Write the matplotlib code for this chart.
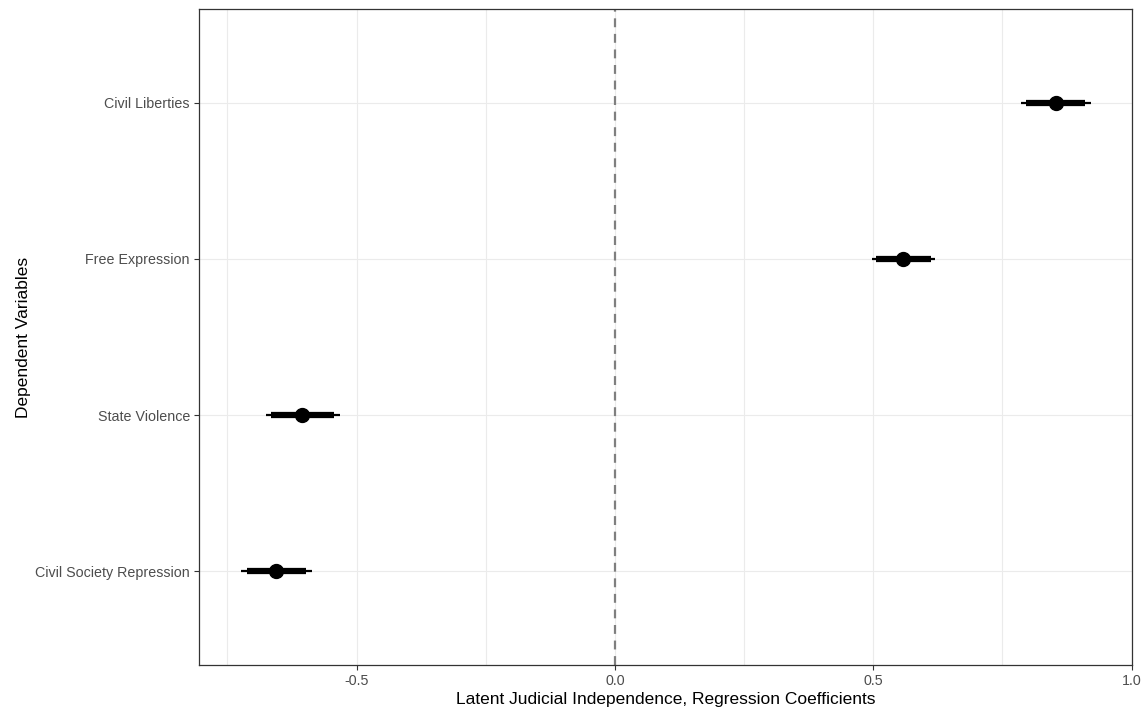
import numpy as np
import matplotlib
matplotlib.use('Agg')
import matplotlib.pyplot as plt
from matplotlib.ticker import MultipleLocator

plt.rcParams['font.family'] = ['Liberation Sans', 'DejaVu Sans']

# coefficient plot, values
variables = ['Civil Society Repression', 'State Violence', 'Free Expression', 'Civil Liberties']
coef = [-0.655, -0.606, 0.558, 0.854]
ci95_lo = [-0.723, -0.676, 0.497, 0.787]
ci95_hi = [-0.586, -0.532, 0.620, 0.921]
ci90_lo = [-0.713, -0.666, 0.505, 0.795]
ci90_hi = [-0.597, -0.543, 0.611, 0.910]

xticks = [-0.5, 0.0, 0.5, 1.0]

fig = plt.figure(figsize=(11.43, 7.13), dpi=100)
ax = fig.add_axes([0.1741, 0.0673, 0.8163, 0.9201])

ypos = np.arange(1, len(variables) + 1)

ax.set_xlim(-0.805, 1.001)
ax.set_ylim(0.4, len(variables) + 0.6)

ax.xaxis.set_major_locator(MultipleLocator(0.5))
ax.xaxis.set_minor_locator(MultipleLocator(0.25))
ax.grid(which='major', color='#ebebeb', linewidth=0.8, zorder=0)
ax.grid(which='minor', axis='x', color='#ebebeb', linewidth=0.8, zorder=0)
ax.set_axisbelow(True)

ax.axvline(0, color='#7f7f7f', linestyle=(0, (4, 3)), linewidth=1.6, zorder=1)

ax.hlines(ypos, ci95_lo, ci95_hi, color='black', linewidth=1.6, zorder=2)
ax.hlines(ypos, ci90_lo, ci90_hi, color='black', linewidth=4.5, zorder=3)
ax.plot(coef, ypos, 'o', color='black', markersize=10, zorder=4)

ax.set_yticks(ypos)
ax.set_yticklabels(variables)
ax.set_xticks(xticks)
ax.set_xticklabels(['-0.5', '0.0', '0.5', '1.0'])

ax.tick_params(which='major', length=3.5, width=0.8, color='#333333',
               labelsize=10.3, labelcolor='#4d4d4d', pad=3)
ax.tick_params(which='minor', length=0)

for s in ax.spines.values():
    s.set_color('#333333')
    s.set_linewidth(0.9)

ax.set_xlabel('Latent Judicial Independence, Regression Coefficients', fontsize=12.5, labelpad=3)
ax.set_ylabel('Dependent Variables', fontsize=12.5, labelpad=3)

fig.savefig('out.png', dpi=100)
